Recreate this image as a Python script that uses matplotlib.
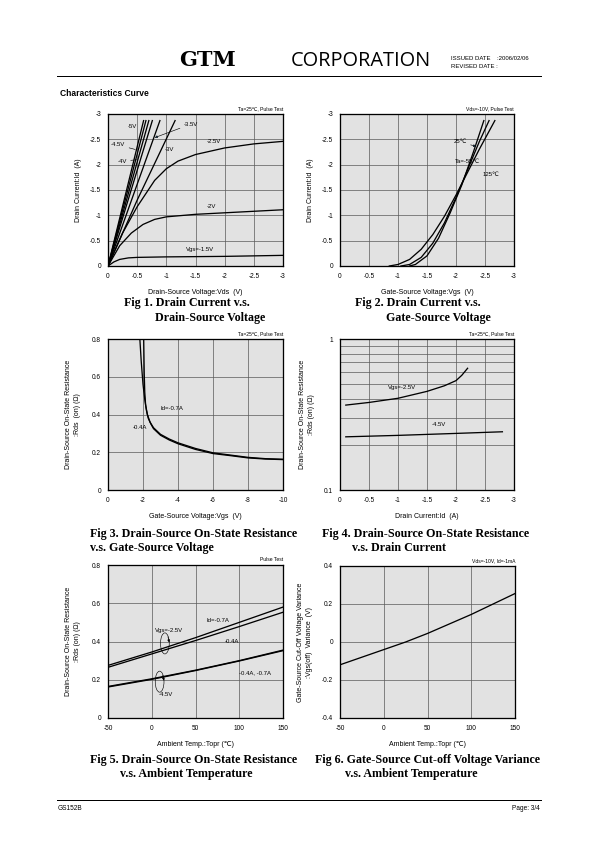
import numpy as np
import matplotlib
matplotlib.use("Agg")
import matplotlib.pyplot as plt
from matplotlib.patches import Ellipse

W, H = 595, 842

# Fig 1 - Id vs Vds for several Vgs
vds_15 = [0, -0.1, -0.2, -0.35, -0.5, -1.0, -2.0, -3.0]
id_15 = [0, -0.08, -0.13, -0.16, -0.17, -0.18, -0.19, -0.21]
vds_20 = [0, -0.2, -0.4, -0.6, -0.8, -1.0, -1.5, -2.0, -2.5, -3.0]
id_20 = [0, -0.4, -0.65, -0.82, -0.92, -0.97, -1.02, -1.05, -1.08, -1.11]
vds_25 = [0, -0.25, -0.5, -0.8, -1.0, -1.2, -1.5, -2.0, -2.5, -3.0]
id_25 = [0, -0.65, -1.17, -1.69, -1.92, -2.07, -2.2, -2.33, -2.41, -2.46]
vds_30 = [0, -0.5, -1.15]
id_30 = [0, -1.3, -2.87]
# steep curves (-3.5V .. -5V): end point of each straight run
steep_vds_end = [-0.89, -0.76, -0.70, -0.65, -0.61]
steep_id_end = -2.87

# Fig 2 - Id vs Vgs, three temperatures
vgs_m55 = [-1.2, -1.3, -1.5, -1.7, -1.9, -2.1, -2.3, -2.48]
id_m55 = [0, -0.03, -0.2, -0.55, -1.05, -1.6, -2.25, -2.87]
vgs_25 = [-1.05, -1.2, -1.4, -1.6, -1.8, -2.0, -2.2, -2.4, -2.57]
id_25c = [0, -0.03, -0.17, -0.45, -0.85, -1.35, -1.9, -2.45, -2.87]
vgs_125 = [-0.85, -1.0, -1.2, -1.4, -1.6, -1.8, -2.0, -2.2, -2.4, -2.67]
id_125 = [0, -0.03, -0.13, -0.33, -0.62, -0.98, -1.4, -1.85, -2.3, -2.87]

# Fig 3 - Rds(on) vs Vgs
vgs_07 = [-2.04, -2.07, -2.1, -2.15, -2.25, -2.4, -2.6, -3.0, -3.5, -4, -5, -6, -7, -8, -9, -10]
rds_07 = [0.8, 0.62, 0.52, 0.45, 0.40, 0.36, 0.33, 0.295, 0.27, 0.25, 0.22, 0.197, 0.185, 0.173, 0.166, 0.163]
vgs_04 = [-1.82, -1.9, -2.0, -2.1, -2.2, -2.3, -2.45, -2.6, -3.0, -3.5, -4, -5, -6, -7, -8, -9, -10]
rds_04 = [0.8, 0.68, 0.56, 0.48, 0.42, 0.38, 0.35, 0.325, 0.29, 0.265, 0.245, 0.215, 0.193, 0.182, 0.170, 0.164, 0.161]

# Fig 4 - Rds(on) vs Id (log)
id_v25 = [-0.1, -0.5, -1.0, -1.5, -1.8, -2.0, -2.1, -2.2]
rds_v25 = [0.365, 0.38, 0.405, 0.45, 0.49, 0.53, 0.575, 0.64]
id_v45 = [-0.1, -1.0, -2.0, -2.8]
rds_v45 = [0.225, 0.23, 0.237, 0.243]

# Fig 5 - Rds(on) vs ambient temperature
temp = [-50, 0, 50, 100, 150]
rds_25_07 = [0.275, 0.345, 0.42, 0.5, 0.58]
rds_25_04 = [0.265, 0.335, 0.405, 0.478, 0.553]
rds_45_04 = [0.165, 0.205, 0.25, 0.3, 0.355]
rds_45_07 = [0.162, 0.202, 0.248, 0.298, 0.352]

# Fig 6 - Vgs(off) variance vs ambient temperature
temp6 = [-50, 0, 25, 50, 100, 150]
vgs_var = [-0.12, -0.04, 0.0, 0.045, 0.145, 0.255]

BG = '#e2e2e2'
GRID = '#5a5a5a'
SANS = ['Liberation Sans', 'DejaVu Sans', 'Noto Sans CJK JP']
SERIF = 'Liberation Serif'

plt.rcParams['font.family'] = SANS
plt.rcParams['axes.unicode_minus'] = False


def px_axes(fig, l, t, r, b):
    return fig.add_axes([l / W, 1 - b / H, (r - l) / W, (b - t) / H])


def ftext(fig, x, y, s, **kw):
    kw.setdefault('family', SANS)
    fig.text(x / W, 1 - y / H, s, **kw)


def style(ax, note):
    ax.set_facecolor(BG)
    ax.grid(True, color=GRID, linewidth=0.7)
    ax.set_axisbelow(True)
    for sp in ax.spines.values():
        sp.set_linewidth(1.3)
    ax.tick_params(length=0, labelsize=6.5, pad=7)
    ax.text(1.0, 1.02, note, transform=ax.transAxes, ha='right', va='bottom',
            fontsize=5)


def labels(ax, xl, yl, ypad=8):
    ax.set_xlabel(xl, fontsize=7, labelpad=9)
    ax.set_ylabel(yl, fontsize=7, labelpad=ypad, linespacing=1.3)


fig = plt.figure(figsize=(W / 72, H / 72), dpi=72)

# header
ftext(fig, 208, 60, 'GTM', family='DejaVu Serif', fontweight='bold', fontsize=21,
      ha='center', va='center')
ftext(fig, 361, 61, 'CORPORATION', family='Open Sans', fontsize=20,
      ha='center', va='center')
ftext(fig, 451, 58, 'ISSUED DATE    :2006/02/06', fontsize=6, va='center')
ftext(fig, 451, 67, 'REVISED DATE :', fontsize=6, va='center')
fig.add_artist(plt.Line2D([57 / W, 541 / W], [1 - 76 / H, 1 - 76 / H], color='black', lw=1))
ftext(fig, 60, 94, 'Characteristics Curve', fontsize=8.5, fontweight='bold', va='center')

# footer
fig.add_artist(plt.Line2D([57 / W, 541 / W], [1 - 800 / H, 1 - 800 / H], color='black', lw=1))
ftext(fig, 58, 808, 'GS152B', fontsize=6.5, va='center')
ftext(fig, 540, 808, 'Page: 3/4', fontsize=6.5, va='center', ha='right')

lw = 1.3
fs = 6

# ---- Fig 1
ax1 = px_axes(fig, 108, 114, 283, 266)
ax1.plot(vds_15, id_15, color='black', lw=lw)
ax1.plot(vds_20, id_20, color='black', lw=lw)
ax1.plot(vds_25, id_25, color='black', lw=lw)
ax1.plot(vds_30, id_30, color='black', lw=lw)
for xe in steep_vds_end:
    ax1.plot([0, xe], [0, steep_id_end], color='black', lw=lw)
ax1.set_xlim(0, -3)
ax1.set_ylim(0, -3)
ax1.set_xticks(np.arange(0, -3.01, -0.5))
ax1.set_yticks(np.arange(0, -3.01, -0.5))
ax1.set_xticklabels(['0', '-0.5', '-1', '-1.5', '-2', '-2.5', '-3'])
ax1.set_yticklabels(['0', '-0.5', '-1', '-1.5', '-2', '-2.5', '-3'])
style(ax1, 'Ta=25\u2103, Pulse Test')
labels(ax1, 'Drain-Source Voltage:Vds  (V)', 'Drain Current:Id  (A)')
ax1.text(-0.42, -2.75, '-5V', fontsize=fs, ha='center', va='center')
ax1.annotate('-4.5V', xy=(-0.5, -2.29), xytext=(-0.05, -2.39), fontsize=fs,
             va='center', arrowprops=dict(arrowstyle='-', lw=0.6))
ax1.annotate('-4V', xy=(-0.53, -2.1), xytext=(-0.16, -2.07), fontsize=fs,
             va='center', arrowprops=dict(arrowstyle='-', lw=0.6))
ax1.annotate('-3.5V', xy=(-0.77, -2.52), xytext=(-1.3, -2.8), fontsize=fs,
             va='center', arrowprops=dict(arrowstyle='-|>', lw=0.6, mutation_scale=5))
ax1.text(-1.06, -2.3, '-3V', fontsize=fs, ha='center', va='center')
ax1.text(-1.81, -2.45, '-2.5V', fontsize=fs, ha='center', va='center')
ax1.text(-1.78, -1.18, '-2V', fontsize=fs, ha='center', va='center')
ax1.text(-1.58, -0.32, 'Vgs=-1.5V', fontsize=fs, ha='center', va='center')

# ---- Fig 2
ax2 = px_axes(fig, 340, 114, 514, 266)
ax2.plot(vgs_m55, id_m55, color='black', lw=lw)
ax2.plot(vgs_25, id_25c, color='black', lw=lw)
ax2.plot(vgs_125, id_125, color='black', lw=lw)
ax2.set_xlim(0, -3)
ax2.set_ylim(0, -3)
ax2.set_xticks(np.arange(0, -3.01, -0.5))
ax2.set_yticks(np.arange(0, -3.01, -0.5))
ax2.set_xticklabels(['0', '-0.5', '-1', '-1.5', '-2', '-2.5', '-3'])
ax2.set_yticklabels(['0', '-0.5', '-1', '-1.5', '-2', '-2.5', '-3'])
style(ax2, 'Vds=-10V, Pulse Test')
labels(ax2, 'Gate-Source Voltage:Vgs  (V)', 'Drain Current:Id  (A)')
ax2.annotate('25\u2103', xy=(-2.38, -2.35), xytext=(-2.07, -2.45), fontsize=fs,
             ha='center', va='center',
             arrowprops=dict(arrowstyle='-|>', lw=0.6, mutation_scale=5))
ax2.text(-2.19, -2.06, 'Ta=-55\u2103', fontsize=fs, ha='center', va='center')
ax2.text(-2.6, -1.81, '125\u2103', fontsize=fs, ha='center', va='center')

# ---- Fig 3
ax3 = px_axes(fig, 108, 339, 283, 490)
ax3.plot(vgs_07, rds_07, color='black', lw=lw)
ax3.plot(vgs_04, rds_04, color='black', lw=lw)
ax3.set_xlim(0, -10)
ax3.set_ylim(0, 0.8)
ax3.set_xticks([0, -2, -4, -6, -8, -10])
ax3.set_xticklabels(['0', '-2', '-4', '-6', '-8', '-10'])
ax3.set_yticks([0, 0.2, 0.4, 0.6, 0.8])
ax3.set_yticklabels(['0', '0.2', '0.4', '0.6', '0.8'])
style(ax3, 'Ta=25\u2103, Pulse Test')
labels(ax3, 'Gate-Source Voltage:Vgs  (V)',
       'Drain-Source On-State Resistance\n:Rds  (on) (\u03a9)', ypad=11)
ax3.text(-3.0, 0.43, 'Id=-0.7A', fontsize=fs, va='center')
ax3.text(-1.4, 0.33, '-0.4A', fontsize=fs, va='center')

# ---- Fig 4
ax4 = px_axes(fig, 340, 339, 514, 490)
ax4.plot(id_v25, rds_v25, color='black', lw=lw)
ax4.plot(id_v45, rds_v45, color='black', lw=lw)
ax4.set_yscale('log')
ax4.set_xlim(0, -3)
ax4.set_ylim(0.1, 1)
ax4.set_xticks(np.arange(0, -3.01, -0.5))
ax4.set_xticklabels(['0', '-0.5', '-1', '-1.5', '-2', '-2.5', '-3'])
ax4.set_yticks([0.1, 1])
ax4.set_yticklabels(['0.1', '1'])
ax4.set_yticks(np.arange(0.2, 0.95, 0.1), minor=True)
ax4.set_yticklabels([], minor=True)
style(ax4, 'Ta=25\u2103, Pulse Test')
ax4.grid(True, which='minor', axis='y', color=GRID, linewidth=0.7)
ax4.tick_params(which='minor', length=0)
labels(ax4, 'Drain Current:Id  (A)',
       'Drain-Source On-State Resistance\n:Rds (on) (\u03a9)', ypad=9)
ax4.text(-1.07, 0.48, 'Vgs=-2.5V', fontsize=fs, ha='center', va='center')
ax4.text(-1.7, 0.27, '-4.5V', fontsize=fs, ha='center', va='center')

# ---- Fig 5
ax5 = px_axes(fig, 108, 565, 283, 718)
ax5.plot(temp, rds_25_07, color='black', lw=lw)
ax5.plot(temp, rds_25_04, color='black', lw=lw)
ax5.plot(temp, rds_45_04, color='black', lw=lw)
ax5.plot(temp, rds_45_07, color='black', lw=lw)
ax5.set_xlim(-50, 150)
ax5.set_ylim(0, 0.8)
ax5.set_xticks([-50, 0, 50, 100, 150])
ax5.set_yticks([0, 0.2, 0.4, 0.6, 0.8])
ax5.set_yticklabels(['0', '0.2', '0.4', '0.6', '0.8'])
style(ax5, 'Pulse Test')
labels(ax5, 'Ambient Temp.:Topr (\u2103)',
       'Drain-Source On-State Resistance\n:Rds (on) (\u03a9)', ypad=11)
for cx, cy in [(15, 0.39), (9, 0.19)]:
    ax5.add_patch(Ellipse((cx, cy), 10, 0.11, fill=False, lw=0.6, color='black'))
    ax5.annotate('', xy=(cx + 5.5, cy - 0.005), xytext=(cx + 3, cy + 0.045),
                 arrowprops=dict(arrowstyle='-|>', lw=0.6, mutation_scale=5, color='black'))
ax5.text(76, 0.508, 'Id=-0.7A', fontsize=fs, ha='center', va='center')
ax5.text(20, 0.46, 'Vgs=-2.5V', fontsize=fs, ha='center', va='center')
ax5.text(92, 0.40, '-0.4A', fontsize=fs, ha='center', va='center')
ax5.text(118, 0.236, '-0.4A, -0.7A', fontsize=fs, ha='center', va='center')
ax5.text(16, 0.122, '-4.5V', fontsize=fs, ha='center', va='center')

# ---- Fig 6
ax6 = px_axes(fig, 340, 566, 515, 718)
ax6.plot(temp6, vgs_var, color='black', lw=lw)
ax6.set_xlim(-50, 150)
ax6.set_ylim(-0.4, 0.4)
ax6.set_xticks([-50, 0, 50, 100, 150])
ax6.set_yticks([-0.4, -0.2, 0, 0.2, 0.4])
ax6.set_yticklabels(['-0.4', '-0.2', '0', '0.2', '0.4'])
style(ax6, 'Vds=-10V, Id=-1mA')
labels(ax6, 'Ambient Temp.:Topr (\u2103)',
       'Gate-Source Cut-Off Voltage Variance\n:Vgs(off)  Variance  (V)', ypad=9)

# captions
cap = dict(family=SERIF, fontweight='bold', fontsize=12, va='center')
ftext(fig, 124, 303, 'Fig 1. Drain Current v.s.', **cap)
ftext(fig, 155, 318, 'Drain-Source Voltage', **cap)
ftext(fig, 355, 303, 'Fig 2. Drain Current v.s.', **cap)
ftext(fig, 386, 318, 'Gate-Source Voltage', **cap)
ftext(fig, 90, 534, 'Fig 3. Drain-Source On-State Resistance', **cap)
ftext(fig, 90, 548, 'v.s. Gate-Source Voltage', **cap)
ftext(fig, 322, 534, 'Fig 4. Drain-Source On-State Resistance', **cap)
ftext(fig, 352, 548, 'v.s. Drain Current', **cap)
ftext(fig, 90, 760, 'Fig 5. Drain-Source On-State Resistance', **cap)
ftext(fig, 120, 774, 'v.s. Ambient Temperature', **cap)
ftext(fig, 315, 760, 'Fig 6. Gate-Source Cut-off Voltage Variance', **cap)
ftext(fig, 345, 774, 'v.s. Ambient Temperature', **cap)

fig.savefig('out.png', dpi=72)
